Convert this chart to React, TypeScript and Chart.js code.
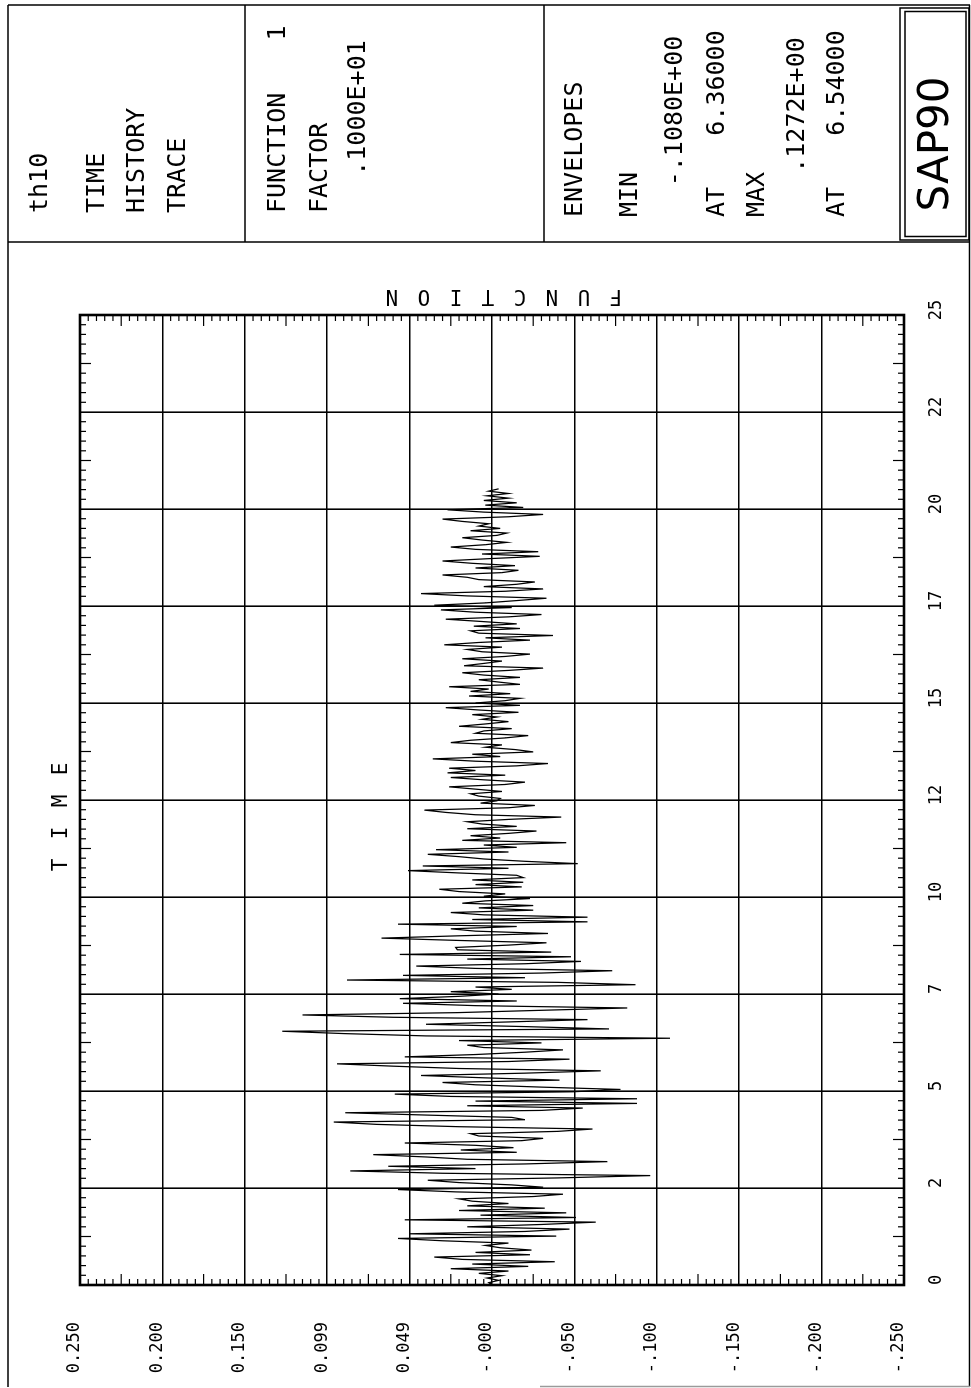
import React, { useEffect, useRef } from 'react';
import { Chart, registerables } from 'chart.js';

Chart.register(...registerables);

// ---------- data ----------
// sampling step of the time-history record (seconds)
const SAMPLE_STEP = 0.06;

// function values, one row per second of record
const TRACE_VALUES: number[] = [
  0.000, 0.002, -0.004, 0.003, -0.006, 0.008, -0.010, 0.025, -0.022, 0.012, -0.038, 0.018, 0.035, -0.023, 0.010, -0.024, -0.005,
  0.004, -0.010, 0.030, 0.057, -0.039, 0.050, -0.020, -0.047, 0.015, -0.030, -0.063, 0.053, -0.051, 0.007, -0.045, 0.020, -0.032,
  0.015, -0.010, 0.012, 0.020, -0.025, -0.043, 0.022, 0.057, -0.031, -0.012, 0.020, 0.039, -0.040, -0.096, 0.030, 0.086,
  0.010, 0.063, -0.020, -0.070, 0.015, 0.040, 0.072, -0.015, 0.019, -0.013, 0.010, 0.053, -0.018, -0.031, 0.008, 0.013, -0.040,
  -0.061, 0.020, 0.070, 0.096, -0.020, -0.012, 0.040, 0.089, -0.030, -0.055, 0.015, -0.088, 0.010, -0.088, 0.025, 0.059, -0.049,
  -0.078, -0.030, 0.010, 0.030, -0.041, 0.005, 0.043, -0.020, -0.066, 0.020, 0.060, 0.094, -0.010, -0.047, 0.053, 0.010,
  -0.020, -0.043, 0.005, 0.015, -0.030, 0.020, -0.108, 0.040, 0.090, 0.1272, -0.071, -0.020, 0.040, -0.010, -0.058, 0.060, 0.115,
  0.021, -0.030, -0.082, 0.010, 0.054, -0.015, 0.056, 0.020, -0.004, 0.025, -0.012, 0.010, -0.087, -0.040, 0.088, -0.020, 0.054,
  -0.030, -0.073, 0.010, 0.046, -0.020, -0.054, 0.015, -0.048, 0.056, -0.036, 0.021, 0.022, -0.010, -0.033, 0.020, 0.067,
  0.020, -0.034, 0.010, 0.025, -0.015, 0.057, -0.058, 0.012, -0.058, 0.005, 0.025, -0.025, 0.008, -0.025, 0.018, 0.004, -0.023,
  0.005, -0.008, 0.020, 0.032, -0.018, 0.010, -0.019, 0.012, -0.019, -0.015, 0.020, 0.051, -0.010, 0.042, -0.052, -0.020, 0.005,
  0.020, 0.039, -0.010, 0.034, -0.015, 0.005, -0.045, 0.018, -0.005, 0.013, -0.010, -0.027, 0.015, -0.015, 0.006, 0.015,
  -0.010, -0.042, 0.010, 0.028, 0.041, -0.010, -0.026, 0.007, -0.003, -0.005, 0.008, 0.013, -0.006, 0.010, 0.026, -0.008, -0.020,
  0.005, 0.025, -0.008, 0.027, 0.010, 0.026, -0.015, -0.034, 0.010, 0.036, -0.005, 0.012, -0.025, -0.014, 0.004, -0.006, 0.025,
  0.013, -0.008, -0.022, 0.010, 0.005, -0.012, 0.020, 0.004, -0.010, 0.006, -0.003, 0.012, -0.016, 0.008, 0.028, -0.017,
  0.010, -0.008, -0.017, 0.014, -0.011, 0.013, 0.002, 0.026, -0.017, -0.004, 0.008, -0.017, 0.005, 0.018, -0.010, -0.031, 0.017,
  0.005, -0.006, 0.018, -0.008, -0.023, 0.006, 0.015, -0.006, 0.029, 0.008, -0.023, 0.004, -0.037, 0.008, 0.013, -0.017, 0.011,
  -0.015, 0.006, 0.028, -0.010, -0.030, 0.010, 0.031, -0.012, 0.035, 0.004, -0.015, -0.033, 0.015, 0.043, -0.008, -0.031,
  0.005, -0.015, -0.026, 0.008, 0.015, 0.030, -0.006, -0.016, 0.010, -0.014, 0.012, 0.030, 0.002, -0.029, 0.006, -0.028, 0.010,
  0.025, 0.004, -0.009, 0.006, 0.018, -0.003, -0.009, 0.013, -0.005, 0.008, 0.002, 0.018, 0.030, -0.010, -0.031, 0.005, 0.027,
  -0.019, 0.004, -0.015, 0.005, -0.010, 0.003, -0.010, 0.002, -0.004,
];

const TIME_MIN = 0;
const TIME_MAX = 25;
const TIME_TICK_VALUES = [0, 2.5, 5, 7.5, 10, 12.5, 15, 17.5, 20, 22.5, 25];
const TIME_TICK_LABELS = ['0', '2', '5', '7', '10', '12', '15', '17', '20', '22', '25'];
const TIME_MINOR_STEP = 0.25;

const FUNC_MIN = -0.25;
const FUNC_MAX = 0.25;
const FUNC_TICK_VALUES = [0.25, 0.2, 0.15, 0.1, 0.05, 0, -0.05, -0.1, -0.15, -0.2, -0.25];
const FUNC_TICK_LABELS = ['0.250', '0.200', '0.150', '0.099', '0.049', '-.000', '-.050', '-.100', '-.150', '-.200', '-.250'];
const FUNC_MINOR_STEP = 0.005;

const TITLE_LINES = ['th10', 'TIME', 'HISTORY', 'TRACE'];
const FUNCTION_LINES = ['FUNCTION', 'FACTOR'];
const FUNCTION_NUMBER = '1';
const FUNCTION_FACTOR = '.1000E+01';
const ENVELOPE_LABELS = ['ENVELOPES', 'MIN', 'AT', 'MAX', 'AT'];
const ENVELOPE_MIN = '-.1080E+00';
const ENVELOPE_MIN_AT = '6.36000';
const ENVELOPE_MAX = '.1272E+00';
const ENVELOPE_MAX_AT = '6.54000';
const PROGRAM_NAME = 'SAP90';
const AXIS_TIME_TITLE = 'TIME';
const AXIS_FUNC_TITLE = 'FUNCTION';

// ---------- layout (drawn unrotated, then the whole sheet is turned 90°) ----------
const W = 1388;
const H = 971;
const PLOT_LEFT = 103;
const PLOT_RIGHT = 1073;
const PLOT_TOP = 80;
const PLOT_BOTTOM = 904;
const MONO = '"DejaVu Sans Mono", "Liberation Mono", monospace';

const sheetPlugin = {
  id: 'sapSheet',
  afterDraw(chart: any) {
    const ctx: CanvasRenderingContext2D = chart.ctx;
    const { left, right, top, bottom } = chart.chartArea;
    const xs = chart.scales.x;
    const ys = chart.scales.y;
    const seg = (x1: number, y1: number, x2: number, y2: number) => {
      ctx.beginPath();
      ctx.moveTo(x1, y1);
      ctx.lineTo(x2, y2);
      ctx.stroke();
    };
    ctx.save();
    ctx.strokeStyle = '#000';

    // minor ticks along the time axis (inside, top and bottom edges)
    ctx.lineWidth = 1.2;
    const nT = Math.round((TIME_MAX - TIME_MIN) / TIME_MINOR_STEP);
    for (let k = 1; k < nT; k++) {
      if (k % 10 === 0) continue;
      const px = xs.getPixelForValue(TIME_MIN + k * TIME_MINOR_STEP);
      const len = k % 5 === 0 ? 11 : 6;
      seg(px, top, px, top + len);
      seg(px, bottom, px, bottom - len);
    }
    // minor ticks along the function axis (inside, left and right edges)
    const nF = Math.round((FUNC_MAX - FUNC_MIN) / FUNC_MINOR_STEP);
    for (let k = 1; k < nF; k++) {
      if (k % 10 === 0) continue;
      const py = ys.getPixelForValue(FUNC_MIN + k * FUNC_MINOR_STEP);
      const len = k % 5 === 0 ? 11 : 6;
      seg(left, py, left + len, py);
      seg(right, py, right - len, py);
    }

    // plot frame
    ctx.lineWidth = 2.6;
    ctx.strokeRect(left, top, right - left, bottom - top);

    // sheet frame and header panel
    ctx.lineWidth = 1.5;
    seg(1, 8, 1383, 8);
    seg(1383, 8, 1383, 970);
    seg(1, 969.5, 1383, 969.5);
    seg(1146, 8, 1146, 970);
    seg(1146, 245, 1383, 245);
    seg(1146, 544, 1383, 544);
    ctx.strokeStyle = '#9a9a9a';
    seg(1.5, 540, 1.5, 970);
    ctx.strokeStyle = '#000';
    ctx.strokeRect(1148, 900, 232, 69);
    ctx.strokeRect(1151.5, 905, 225, 61);

    // header texts
    ctx.fillStyle = '#000';
    ctx.textBaseline = 'middle';
    ctx.textAlign = 'left';
    ctx.font = `25px ${MONO}`;
    const titleV = [40, 97, 137, 178];
    TITLE_LINES.forEach((t, i) => ctx.fillText(t, 1175, titleV[i]));
    ctx.fillText(FUNCTION_LINES[0], 1175, 278);
    ctx.fillText(FUNCTION_LINES[1], 1175, 320);
    const envV = [575, 630, 717, 757, 837];
    ENVELOPE_LABELS.forEach((t, i) => ctx.fillText(t, 1171, envV[i]));
    ctx.textAlign = 'center';
    ctx.fillText(FUNCTION_NUMBER, 1355, 278);
    ctx.fillText(FUNCTION_FACTOR, 1280, 358);
    ctx.fillText(ENVELOPE_MIN, 1277, 675);
    ctx.fillText(ENVELOPE_MIN_AT, 1305, 717);
    ctx.fillText(ENVELOPE_MAX, 1283, 797);
    ctx.fillText(ENVELOPE_MAX_AT, 1305, 837);
    ctx.font = `42px "DejaVu Sans", sans-serif`;
    ctx.fillText(PROGRAM_NAME, 1244, 937);

    // axis titles (spaced plotter lettering)
    ctx.font = `21px ${MONO}`;
    AXIS_TIME_TITLE.split('').forEach((ch, k) => ctx.fillText(ch, 523 + k * 32, 62));
    ctx.save();
    ctx.translate(1093, 504);
    ctx.rotate(-Math.PI / 2);
    const letters = AXIS_FUNC_TITLE.split('');
    letters.forEach((ch, k) => ctx.fillText(ch, (k - (letters.length - 1) / 2) * 32, 0));
    ctx.restore();

    ctx.restore();
  },
};

function labelFor(values: number[], labels: string[], v: number): string {
  const idx = values.findIndex((t) => Math.abs(t - v) < 1e-9);
  return idx >= 0 ? labels[idx] : '';
}

export default function App() {
  const canvasRef = useRef<HTMLCanvasElement>(null);

  useEffect(() => {
    const canvas = canvasRef.current;
    if (!canvas) return;
    const points = TRACE_VALUES.map((v, i) => ({ x: Math.round(i * SAMPLE_STEP * 100) / 100, y: v }));
    const tickFont = { family: MONO, size: 17 };
    const chart = new Chart(canvas, {
      type: 'line',
      data: {
        datasets: [
          {
            data: points,
            borderColor: '#000',
            borderWidth: 1.25,
            pointRadius: 0,
            tension: 0,
            fill: false,
          },
        ],
      },
      options: {
        animation: false,
        responsive: false,
        devicePixelRatio: 1,
        events: [],
        layout: { padding: { left: 0, top: PLOT_TOP, right: W - PLOT_RIGHT, bottom: 0 } },
        plugins: {
          legend: { display: false },
          tooltip: { enabled: false },
          title: { display: false },
        },
        scales: {
          x: {
            type: 'linear',
            position: 'bottom',
            min: TIME_MIN,
            max: TIME_MAX,
            afterBuildTicks: (s: any) => {
              s.ticks = TIME_TICK_VALUES.map((v) => ({ value: v }));
            },
            afterFit: (s: any) => {
              s.height = H - PLOT_BOTTOM;
            },
            ticks: {
              autoSkip: false,
              maxRotation: 0,
              minRotation: 0,
              padding: 22,
              labelOffset: 5,
              color: '#000',
              font: tickFont,
              callback: (v: any) => labelFor(TIME_TICK_VALUES, TIME_TICK_LABELS, Number(v)),
            },
            grid: { color: '#000', lineWidth: 1.6, drawTicks: false },
            border: { display: false },
          },
          y: {
            type: 'linear',
            position: 'left',
            min: FUNC_MIN,
            max: FUNC_MAX,
            afterBuildTicks: (s: any) => {
              s.ticks = FUNC_TICK_VALUES.slice().reverse().map((v) => ({ value: v }));
            },
            afterFit: (s: any) => {
              s.width = PLOT_LEFT;
            },
            ticks: {
              autoSkip: false,
              padding: 37,
              labelOffset: -5,
              color: '#000',
              font: tickFont,
              callback: (v: any) => labelFor(FUNC_TICK_VALUES, FUNC_TICK_LABELS, Number(v)),
            },
            grid: { color: '#000', lineWidth: 1.6, drawTicks: false },
            border: { display: false },
          },
        },
      },
      plugins: [sheetPlugin],
    } as any);
    return () => chart.destroy();
  }, []);

  return (
    <div
      style={{
        position: 'fixed',
        left: 0,
        top: 0,
        width: W,
        height: H,
        background: '#fff',
        transformOrigin: '0 0',
        transform: `translateY(${W}px) rotate(-90deg)`,
      }}
    >
      <canvas ref={canvasRef} width={W} height={H} style={{ display: 'block', width: W, height: H }} />
    </div>
  );
}
